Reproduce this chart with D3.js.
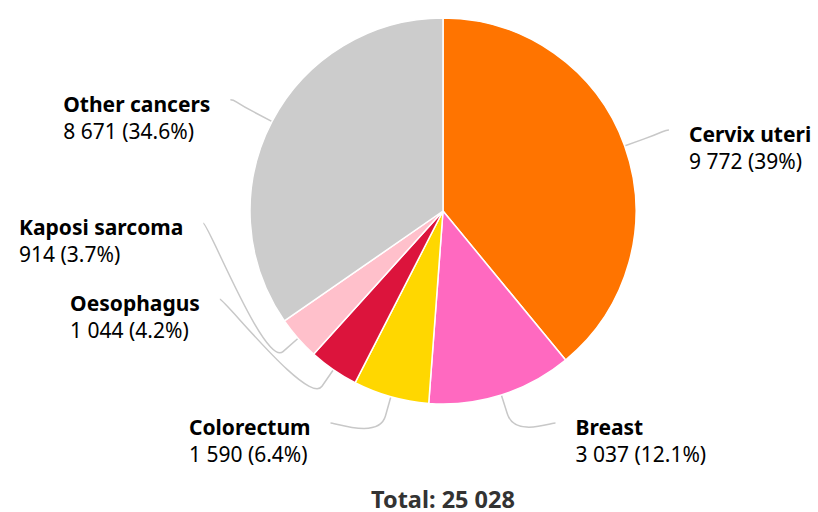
<!DOCTYPE html>
<html>
<head>
<meta charset="utf-8">
<script src="https://cdn.jsdelivr.net/npm/d3@7"></script>
<style>
  body { margin: 0; background: #fff; }
  svg { font-family: "Noto Sans", "Open Sans", sans-serif; }
</style>
</head>
<body>
<svg></svg>
<script>
let width = 818;
let height = 512;

let categories = ['Cervix uteri', 'Breast', 'Colorectum', 'Oesophagus', 'Kaposi sarcoma', 'Other cancers'];
let values = [9772, 3037, 1590, 1044, 914, 8671];
let colors = ['#ff7400', '#ff69c0', '#ffd700', '#dc143c', '#ffc0cb', '#cccccc'];

let svg = d3.select('svg')
            .attr('width', width)
            .attr('height', height);

let cx = 443, cy = 211, radius = 193;
let labelR = 240;     // where connectors end
let bottomY = 423;    // lowest label anchor
let step = 76;        // vertical room for one label

let locale = d3.formatLocale({decimal: '.', thousands: ' ', grouping: [3], currency: ['', '']});
let fmt = locale.format(',d');
let total = d3.sum(values);

let data = categories.map((c, i) => ({name: c, value: values[i], color: colors[i]}));

let pie = d3.pie().sort(null).value(d => d.value);
let arc = d3.arc().innerRadius(0).outerRadius(radius);
let arcs = pie(data);

let g = svg.append('g').attr('transform', `translate(${cx},${cy})`);

g.selectAll('path.slice')
  .data(arcs)
  .enter()
  .append('path')
  .attr('class', 'slice')
  .attr('d', arc)
  .attr('fill', d => d.data.color)
  .attr('stroke', '#fff')
  .attr('stroke-width', 1.5)
  .attr('stroke-linejoin', 'round');

// label anchors
arcs.forEach(d => {
  d.mid = (d.startAngle + d.endAngle) / 2;
  d.left = d.mid > Math.PI;
  d.y = Math.min(-Math.cos(d.mid) * labelR, bottomY - cy);
});

// crowded labels get packed in the middle between the outer ones
function spread(side) {
  side.sort((a, b) => a.y - b.y);
  let overlap = false;
  for (let i = 1; i < side.length; i++) {
    if (side[i].y - side[i - 1].y < step) overlap = true;
  }
  if (!overlap || side.length < 3) return;
  let y0 = side[0].y, y1 = side[side.length - 1].y;
  let inner = side.slice(1, -1);
  let s = Math.min(step, (y1 - y0) / (side.length - 1));
  let start = (y0 + y1) / 2 - s * (inner.length - 1) / 2;
  inner.forEach((d, i) => { d.y = start + s * i; });
}
spread(arcs.filter(d => d.left));
spread(arcs.filter(d => !d.left));

arcs.forEach(d => {
  let dy = Math.max(-labelR, Math.min(labelR, d.y));
  d.x = (d.left ? -1 : 1) * Math.sqrt(labelR * labelR - dy * dy);
});

function pt(a, r) { return [Math.sin(a) * r, -Math.cos(a) * r]; }

g.selectAll('path.connector')
  .data(arcs)
  .enter()
  .insert('path', 'path.slice')
  .attr('class', 'connector')
  .attr('fill', 'none')
  .attr('stroke', '#c8c8c8')
  .attr('stroke-width', 1.5)
  .attr('d', d => {
    let t = pt(d.mid, radius - 4);
    let b = pt(d.mid, radius + 20);
    let c1x = d.x + (d.left ? 5 : -5);
    return `M${d.x},${d.y}C${c1x},${d.y} ${2 * b[0] - t[0]},${2 * b[1] - t[1]} ${b[0]},${b[1]}L${t[0]},${t[1]}`;
  });

let labels = g.selectAll('g.label')
  .data(arcs)
  .enter()
  .append('g')
  .attr('class', 'label');

labels.append('text')
  .attr('class', 'name')
  .attr('y', d => d.y + 12)
  .attr('font-size', 21)
  .attr('font-weight', 'bold')
  .attr('fill', '#000')
  .text(d => d.data.name);

labels.append('text')
  .attr('class', 'val')
  .attr('y', d => d.y + 39)
  .attr('font-size', 21)
  .attr('fill', '#000')
  .text(d => fmt(d.data.value) + ' (' + (+(d.data.value / total * 100).toFixed(1)) + '%)');

labels.each(function(d) {
  let w = 0;
  d3.select(this).selectAll('text').each(function() { w = Math.max(w, this.getComputedTextLength()); });
  let x0 = d.left ? d.x - 20 - w : d.x + 20;
  d3.select(this).selectAll('text').attr('x', x0);
});

svg.append('text')
  .attr('x', cx)
  .attr('y', 508)
  .attr('text-anchor', 'middle')
  .attr('font-size', 23.5)
  .attr('font-weight', 'bold')
  .attr('fill', '#333')
  .text('Total: ' + fmt(total));
</script>
</body>
</html>
